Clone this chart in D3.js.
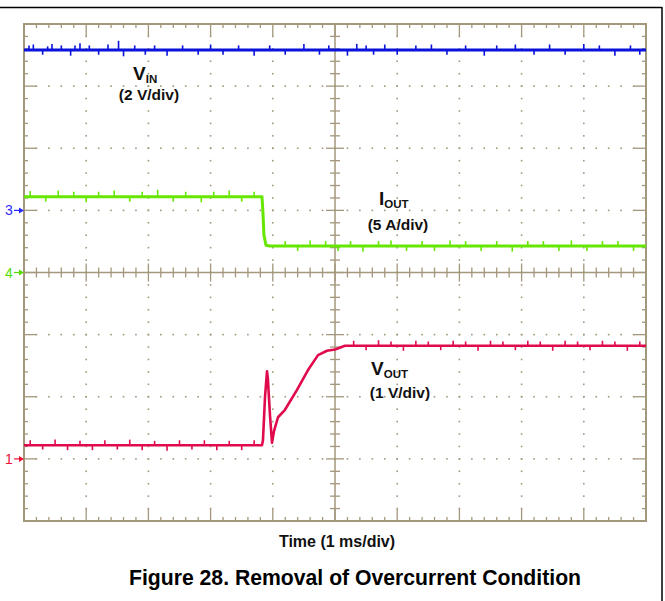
<!DOCTYPE html>
<html><head><meta charset="utf-8">
<script src="https://cdn.jsdelivr.net/npm/d3@7"></script>
<style>body{margin:0;background:#fff}svg{display:block}</style>
</head><body>
<script>
// ---- data (time in ms, values in V or A) ----
const vinTrace = [[0,5.16],[10,5.16]];
const vinSpikes = [[0.08,0.15],[0.15,0.18],[0.3,-0.15],[0.38,0.12],[0.45,0.2],[0.6,0.15],[0.75,-0.18],[0.82,0.15],[0.9,0.22],[1.05,0.15],[1.2,-0.15],[1.35,0.18],[1.52,0.3],[1.6,-0.2],[1.78,0.15],[1.95,-0.15],[2.1,0.15],[2.3,-0.18],[2.55,0.15],[2.8,-0.15],[3.0,0.18],[3.2,-0.15],[3.45,0.15],[3.7,-0.18],[3.95,0.15],[4.2,-0.15],[4.5,0.2],[4.75,-0.15],[4.9,0.15],[5.2,-0.18],[5.35,0.2],[5.5,0.15],[5.62,-0.15],[5.8,0.18],[6.0,-0.15],[6.3,0.15],[6.55,0.18],[6.8,-0.15],[7.1,0.15],[7.4,-0.18],[7.6,0.15],[7.9,0.18],[8.2,-0.15],[8.45,0.18],[8.7,-0.15],[9.0,0.2],[9.25,0.15],[9.5,-0.18],[9.75,0.15],[9.9,-0.15]];

const ioutTrace = [[0,6.1],[3.826,6.1],[3.842,4.8],[3.858,3.0],[3.89,2.2],[3.95,2.13],[10,2.13]];
const ioutSpikes = [[0.1,0.45],[0.35,-0.4],[0.55,0.5],[0.8,0.4],[1.0,-0.45],[1.2,0.4],[1.45,0.5],[1.7,-0.4],[1.9,0.4],[2.15,0.55],[2.4,-0.4],[2.6,0.4],[2.85,-0.45],[3.05,0.4],[3.3,0.5],[3.5,-0.4],[3.7,0.4],[4.2,0.4],[4.4,-0.4],[4.6,0.45],[4.85,0.4],[5.05,-0.4],[5.25,0.4],[5.45,-0.45],[5.7,0.4],[5.9,0.45],[6.15,-0.4],[6.4,0.4],[6.6,-0.4],[6.85,0.45],[7.1,0.4],[7.35,-0.4],[7.6,0.4],[7.85,-0.45],[8.1,0.4],[8.35,0.4],[8.6,-0.4],[8.8,0.45],[9.05,-0.4],[9.3,0.4],[9.55,0.4],[9.8,-0.4]];

const voutTrace = [[0,0.22],[3.826,0.22],[3.842,0.3],[3.875,1.0],[3.907,1.41],[3.92,1.3],[3.955,0.7],[3.987,0.26],[4.02,0.45],[4.084,0.67],[4.196,0.79],[4.389,1.11],[4.566,1.43],[4.727,1.67],[4.871,1.74],[5.0,1.76],[5.16,1.82],[10,1.82]];
const voutSpikes = [[0.1,0.08],[0.3,-0.07],[0.5,0.09],[0.7,-0.08],[0.9,0.07],[1.1,-0.08],[1.3,0.08],[1.5,-0.07],[1.7,0.09],[1.9,-0.08],[2.1,0.07],[2.3,-0.09],[2.5,0.08],[2.7,-0.07],[2.9,0.08],[3.1,-0.08],[3.3,0.07],[3.5,-0.08],[3.7,0.08],[5.3,0.08],[5.5,-0.07],[5.7,0.09],[5.9,0.07],[6.1,-0.08],[6.3,0.08],[6.5,0.07],[6.7,-0.07],[6.9,0.08],[7.1,0.07],[7.3,-0.08],[7.5,0.08],[7.7,0.07],[7.9,-0.07],[8.1,0.08],[8.3,0.07],[8.5,-0.08],[8.7,0.08],[8.9,0.07],[9.1,-0.07],[9.3,0.08],[9.5,0.07],[9.7,-0.08],[9.9,0.07]];

// channel settings: offset (div), units per div
const channelNames = ["VIN","IOUT","VOUT"];
const channelScales = [2, 5, 1];
const channelOffsets = [1, 0, -3];
const markerLabels = ["3","4","1"];
const markerOffsets = [1, 0, -3];

// ---- layout ----
const W = 665, H = 601;
const L = 24, R = 646, T = 24, B = 521;
const frameColor = "#a3977c";
const font = "'Liberation Sans', Arial, sans-serif";

const svg = d3.select("body").append("svg").attr("width", W).attr("height", H);
const xs = d3.scaleLinear().domain([0,10]).range([L,R]);
const ys = d3.scaleLinear().domain([-4,4]).range([B,T]);

// outer black border lines
svg.append("line").attr("x1",0).attr("x2",662).attr("y1",7.5).attr("y2",7.5).attr("stroke","#000").attr("stroke-width",1.5);
svg.append("line").attr("x1",662).attr("x2",662).attr("y1",7).attr("y2",H).attr("stroke","#000").attr("stroke-width",1.5);

const g = svg.append("g");
// dotted grid
const dots = [];
for (let k = 1; k < 10; k++) {
  if (k === 5) continue;
  for (let j = 1; j < 40; j++) dots.push([xs(k), ys(-4 + j*0.2)]);
}
for (let k = -3; k <= 3; k++) {
  if (k === 0) continue;
  for (let j = 1; j < 50; j++) dots.push([xs(j*0.2), ys(k)]);
}
g.selectAll("rect.dot").data(dots).enter().append("rect").attr("class","dot")
  .attr("x", d => d[0]-0.8).attr("y", d => d[1]-0.8).attr("width",1.6).attr("height",1.6).attr("fill",frameColor);

// center cross
g.append("line").attr("x1",xs(5)).attr("x2",xs(5)).attr("y1",T).attr("y2",B).attr("stroke",frameColor).attr("stroke-width",1.5);
g.append("line").attr("x1",L).attr("x2",R).attr("y1",ys(0)).attr("y2",ys(0)).attr("stroke",frameColor).attr("stroke-width",1.5);
for (let j = 1; j < 40; j++) {
  const y = ys(-4 + j*0.2), len = (j % 5 === 0) ? 9 : 5;
  g.append("line").attr("x1",xs(5)-len).attr("x2",xs(5)+len).attr("y1",y).attr("y2",y).attr("stroke",frameColor).attr("stroke-width",1.3);
}
for (let j = 1; j < 50; j++) {
  const x = xs(j*0.2), len = (j % 5 === 0) ? 9 : 5;
  g.append("line").attr("x1",x).attr("x2",x).attr("y1",ys(0)-len).attr("y2",ys(0)+len).attr("stroke",frameColor).attr("stroke-width",1.3);
}
// frame ticks
for (let j = 1; j < 50; j++) {
  const x = xs(j*0.2), len = (j % 5 === 0) ? 12 : 4;
  g.append("line").attr("x1",x).attr("x2",x).attr("y1",T).attr("y2",T+len).attr("stroke",frameColor).attr("stroke-width",1.3);
  g.append("line").attr("x1",x).attr("x2",x).attr("y1",B-len).attr("y2",B).attr("stroke",frameColor).attr("stroke-width",1.3);
}
for (let j = 1; j < 40; j++) {
  const y = ys(-4 + j*0.2), len = (j % 5 === 0) ? 12 : 4;
  g.append("line").attr("x1",L).attr("x2",L+len).attr("y1",y).attr("y2",y).attr("stroke",frameColor).attr("stroke-width",1.3);
  g.append("line").attr("x1",R-len).attr("x2",R).attr("y1",y).attr("y2",y).attr("stroke",frameColor).attr("stroke-width",1.3);
}
g.append("rect").attr("x",L).attr("y",T).attr("width",R-L).attr("height",B-T).attr("fill","none").attr("stroke",frameColor).attr("stroke-width",2);

// traces
const traceColors = ["#0a12dc","#66e600","#e00a4c"];
const traceWidths = [3, 3, 2.6];
const traces = [vinTrace, ioutTrace, voutTrace];
const spikes = [vinSpikes, ioutSpikes, voutSpikes];
traces.forEach((tr, i) => {
  const yv = v => ys(channelOffsets[i] + v/channelScales[i]);
  const base = d3.scaleLinear().domain(tr.map(d => d[0])).range(tr.map(d => d[1]));
  const line = d3.line().x(d => xs(d[0])).y(d => yv(d[1]));
  g.append("path").datum(tr).attr("d", line).attr("fill","none").attr("stroke",traceColors[i]).attr("stroke-width",traceWidths[i]).attr("stroke-linejoin","round");
  g.selectAll("line.sp"+i).data(spikes[i]).enter().append("line").attr("class","sp"+i)
    .attr("x1", d => xs(d[0])).attr("x2", d => xs(d[0]))
    .attr("y1", d => yv(base(d[0]))).attr("y2", d => yv(base(d[0]) + d[1]))
    .attr("stroke",traceColors[i]).attr("stroke-width",1.6);
});

// channel markers
const markerColors = ["#2a2aff","#55dd00","#ee1133"];
markerLabels.forEach((m, i) => {
  const y = ys(markerOffsets[i]);
  svg.append("text").attr("x",5).attr("y",y+5).attr("font-family",font).attr("font-size",14).attr("fill",markerColors[i]).text(m);
  svg.append("line").attr("x1",14).attr("x2",20).attr("y1",y).attr("y2",y).attr("stroke",markerColors[i]).attr("stroke-width",1.2);
  svg.append("path").attr("d",`M${19},${y-3}L${24},${y}L${19},${y+3}Z`).attr("fill",markerColors[i]);
});

// trace labels
function sublabel(x, y, main, sub, subDy, per, perX, perY) {
  const t = svg.append("text").attr("x",x).attr("y",y).attr("font-family",font).attr("fill","#111").attr("font-weight","bold");
  t.append("tspan").attr("font-size",19).text(main);
  t.append("tspan").attr("font-size",11.5).attr("dy",subDy).text(sub);
  svg.append("text").attr("x",perX).attr("y",perY).attr("text-anchor","middle").attr("font-family",font).attr("font-size",15.5).attr("font-weight","bold").attr("fill","#111").text(per);
}
sublabel(133, 80, "V", "IN", 3, "(2 V/div)", 149, 100);
sublabel(379, 205, "I", "OUT", 3, "(5 A/div)", 398, 230);
sublabel(371, 375, "V", "OUT", 3, "(1 V/div)", 400, 398);

svg.append("text").attr("x",337).attr("y",547).attr("text-anchor","middle").attr("font-family",font).attr("font-size",16).attr("font-weight","bold").attr("fill","#111").text("Time (1 ms/div)");
svg.append("text").attr("x",355).attr("y",585).attr("text-anchor","middle").attr("font-family",font).attr("font-size",21.2).attr("font-weight","bold").attr("fill","#000").text("Figure 28. Removal of Overcurrent Condition");
</script>
</body></html>
